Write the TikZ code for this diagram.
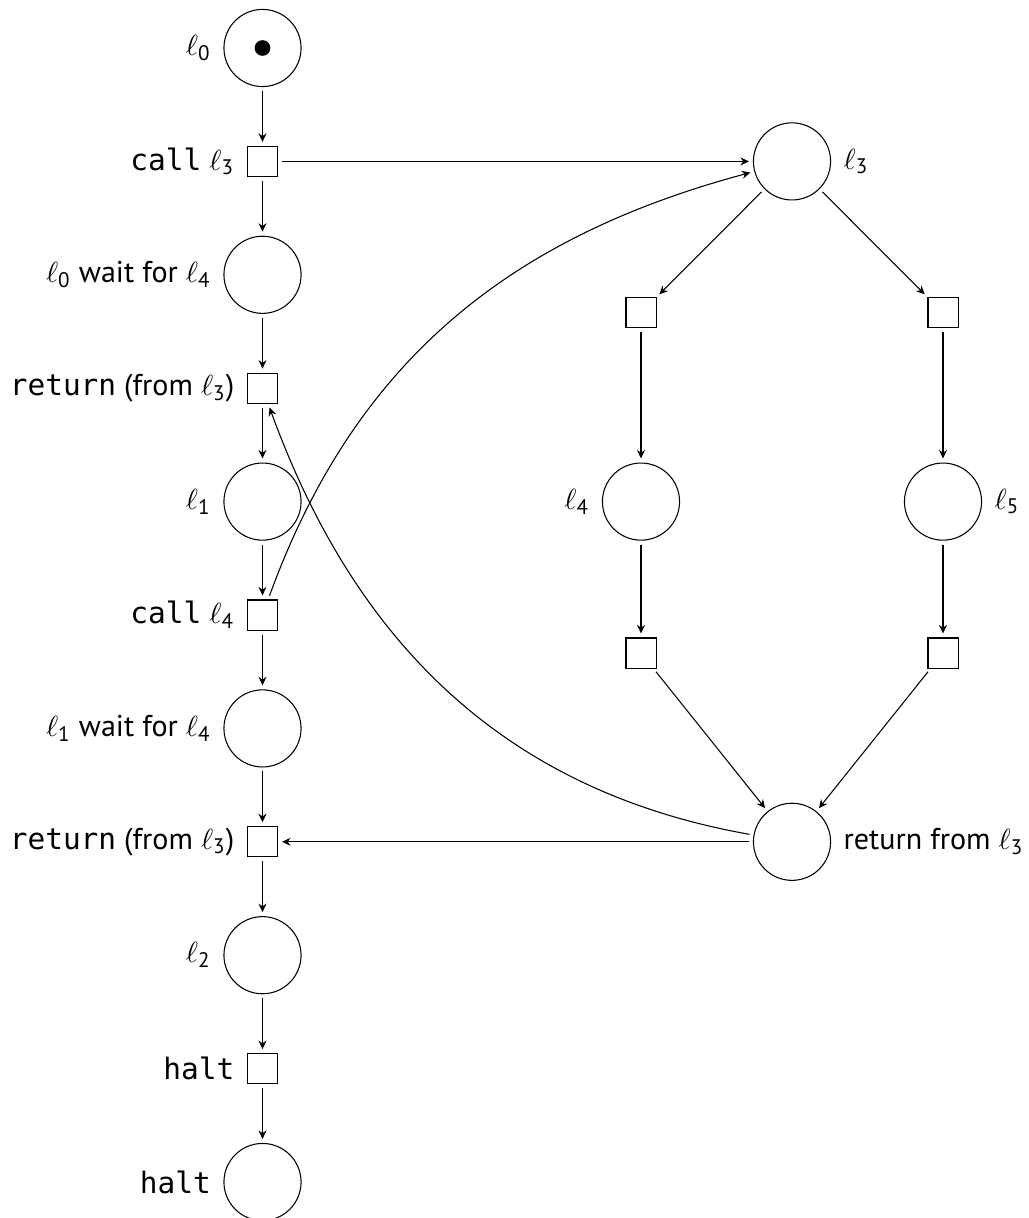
\documentclass[tikz,border=0pt]{standalone}
\usepackage{fontspec}
\usepackage{amsmath}
\setmainfont{PT Sans}
\setmonofont{DejaVu Sans Mono}[Scale=0.98]
\usetikzlibrary{arrows.meta}
\newcommand\ellsub[1]{\ensuremath{\ell_{\text{#1}}}}
\begin{document}
\begin{tikzpicture}[x=0.37594pt,y=-0.37594pt,
  font=\fontsize{11.3}{13.5}\selectfont,
  place/.style={circle,draw,minimum size=29pt,inner sep=0pt},
  trans/.style={rectangle,draw,minimum size=11.3pt,inner sep=0pt},
  token/.style={circle,fill,minimum size=5.9pt,inner sep=0pt},
  arr/.style={-{Stealth[length=3.2pt,width=3pt]},shorten >=1.5pt,shorten <=1.5pt},
  label distance=1.2pt]
\useasboundingbox (0,0) rectangle (1029,1218);
% left column
\node[place,label={left:\ellsub0}] (p0) at (262.5,48) {};
\node[token] (tok) at (p0) {};
\node[trans,label={left:{\texttt{call} \ellsub3}}] (t0) at (262.5,161.4) {};
\node[place,label={left:{\ellsub0 wait for \ellsub4}}] (p1) at (262.5,274.8) {};
\node[trans,label={left:{\texttt{return} (from \ellsub3)}}] (t1) at (262.5,388.2) {};
\node[place,label={left:\ellsub1}] (p2) at (262.5,501.6) {};
\node[trans,label={left:{\texttt{call} \ellsub4}}] (t2) at (262.5,615) {};
\node[place,label={left:{\ellsub1 wait for \ellsub4}}] (p3) at (262.5,728.4) {};
\node[trans,label={left:{\texttt{return} (from \ellsub3)}}] (t3) at (262.5,841.8) {};
\node[place,label={left:\ellsub2}] (p4) at (262.5,955.2) {};
\node[trans,label={left:{\texttt{halt}}}] (t4) at (262.5,1068.6) {};
\node[place,label={left:{\texttt{halt}}}] (p5) at (262.5,1182) {};
% right part
\node[place,label={right:\ellsub3}] (q3) at (792,161.4) {};
\node[trans] (ta) at (641,312.7) {};
\node[trans] (tb) at (943,312.7) {};
\node[place,label={left:\ellsub4}] (q4) at (641,501.6) {};
\node[place,label={right:\ellsub5}] (q5) at (943,501.6) {};
\node[trans] (tc) at (641,653) {};
\node[trans] (td) at (943,653) {};
\node[place,label={right:{return from \ellsub3}}] (qr) at (792,841.8) {};
% edges
\draw[arr] (p0) -- (t0);
\draw[arr] (t0) -- (p1);
\draw[arr] (p1) -- (t1);
\draw[arr] (t1) -- (p2);
\draw[arr] (p2) -- (t2);
\draw[arr] (t2) -- (p3);
\draw[arr] (p3) -- (t3);
\draw[arr] (t3) -- (p4);
\draw[arr] (p4) -- (t4);
\draw[arr] (t4) -- (p5);
\draw[arr] (t0) -- (q3);
\draw[arr] (q3) -- (ta);
\draw[arr] (q3) -- (tb);
\draw[arr] (ta) -- (q4);
\draw[arr] (tb) -- (q5);
\draw[arr] (q4) -- (tc);
\draw[arr] (q5) -- (td);
\draw[arr] (tc) -- (qr);
\draw[arr] (td) -- (qr);
\draw[arr] (qr) -- (t3);
\draw[arr] (qr) to[out=170,in=-70] (t1);
\draw[arr] (t2) to[out=70,in=195] (q3);
\end{tikzpicture}
\end{document}
